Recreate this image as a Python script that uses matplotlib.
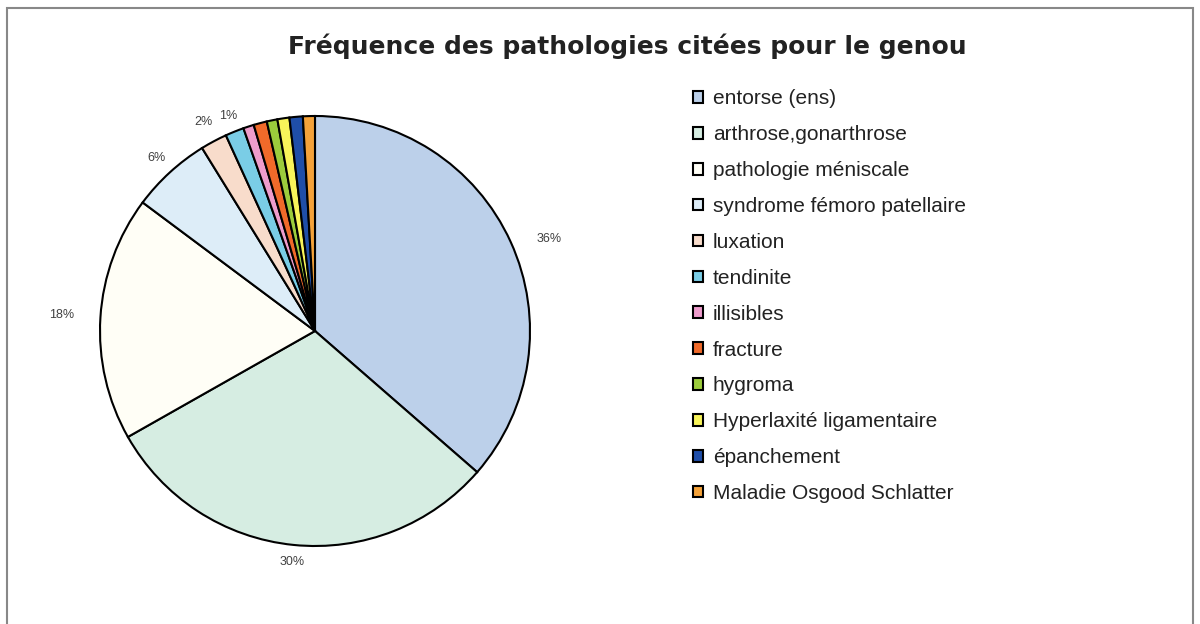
import matplotlib
matplotlib.use("Agg")
import matplotlib.pyplot as plt
from matplotlib.patches import Rectangle
import numpy as np

plt.rcParams['font.family'] = ['Liberation Sans', 'DejaVu Sans']

# donnees (en %)
pathologies = ["entorse (ens)", "arthrose,gonarthrose", "pathologie méniscale",
               "syndrome fémoro patellaire", "luxation", "tendinite", "illisibles",
               "fracture", "hygroma", "Hyperlaxité ligamentaire", "épanchement",
               "Maladie Osgood Schlatter"]
valeurs = [36.4, 30.4, 18.4, 6.0, 2.0, 1.4, 0.8, 1.0, 0.8, 0.9, 1.0, 0.9]
etiquettes = ["36%", "30%", "18%", "6%", "2%", "1%", "", "", "", "", "", ""]
couleurs = ["#bcd0ea", "#d6ede2", "#fffef6", "#ddedf8", "#f8dccb", "#7acde6",
            "#ee9ccc", "#f06a2a", "#9ccc3c", "#f8f45a", "#1f4ea8", "#f4a23a"]

fig = plt.figure(figsize=(12, 6.24), dpi=100)
ax = fig.add_axes([100 / 1200, 78 / 624, 430 / 1200, 430 / 624])

wedges, _ = ax.pie(valeurs, colors=couleurs, startangle=90, counterclock=False,
                   wedgeprops=dict(edgecolor="black", linewidth=1.5))
ax.set_xlim(-1, 1)
ax.set_ylim(-1, 1)
ax.set_aspect("equal")

# etiquettes de pourcentage a l'exterieur
cumul = np.cumsum([0] + valeurs)
total = sum(valeurs)
dist = [1.17, 1.08, 1.18, 1.09, 1.10, 1.08]
for i, txt in enumerate(etiquettes):
    if not txt:
        continue
    mid = 90 - (cumul[i] + valeurs[i] / 2) / total * 360
    if i == 0:
        mid -= 3
    a = np.deg2rad(mid)
    ax.text(dist[i] * np.cos(a), dist[i] * np.sin(a), txt, ha="center", va="center",
            fontsize=9, color="#404040")

fig.text(627 / 1200, 1 - 46 / 624, "Fréquence des pathologies citées pour le genou",
         ha="center", va="center", fontsize=18, fontweight="bold", color="#222222",
         family="DejaVu Sans")

leg = fig.legend(wedges, pathologies, loc="upper left",
                 bbox_to_anchor=(683 / 1200, 1 - 79 / 624),
                 frameon=False, fontsize=15, handlelength=0.48, handleheight=0.48,
                 handletextpad=0.45, labelspacing=0.81, borderpad=0)
for t in leg.get_texts():
    t.set_color("#222222")

# cadre gris (ouvert en bas)
fig.patches.append(Rectangle((7 / 1200, -0.05), 1186 / 1200, 1 - 8 / 624 + 0.05,
                             transform=fig.transFigure, fill=False,
                             edgecolor="#888888", linewidth=1.5))

fig.savefig("out.png", dpi=100)
